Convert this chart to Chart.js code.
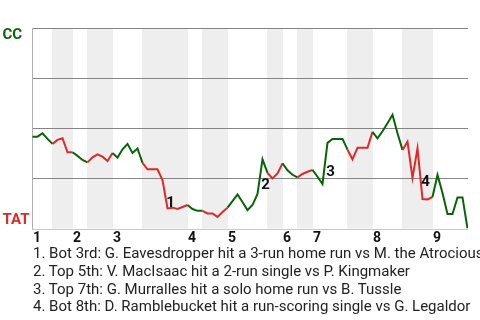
<!DOCTYPE html>
<html><head><meta charset="utf-8">
<script src="https://cdn.jsdelivr.net/npm/chart.js@4.4.1/dist/chart.umd.min.js"></script>
<style>
html,body{margin:0;padding:0;background:#fff;}
#wrap{position:relative;width:480px;height:320px;overflow:hidden;}
#c{position:absolute;left:0;top:0;}
#notes{position:absolute;left:33px;top:245.4px;font:15px Roboto, sans-serif;line-height:17.67px;color:#222;white-space:nowrap;}
</style></head><body>
<div id="wrap"><canvas id="c" width="480" height="320"></canvas>
<div id="notes"></div></div>
<script>
// Win probability for CC (0 = TAT wins, 100 = CC wins), one value per event
const winProb = [
  45.8, 45.8, 47.5, 44.7, 42.2, 44.2, 45.0, 38.0, 38.0, 36.2,
  34.2, 33.0, 35.5, 37.0, 35.8, 33.7, 37.7, 35.3, 39.5, 42.2,
  37.7, 39.9, 32.7, 29.5, 29.5, 29.5, 24.2, 10.0, 10.4, 9.7,
  10.7, 11.7, 9.7, 8.8, 8.8, 7.5, 7.5, 5.8, 8.2, 10.4,
  13.7, 17.0, 13.2, 9.2, 11.7, 17.2, 34.5, 27.7, 25.0, 27.5,
  32.5, 29.0, 26.8, 25.5, 27.2, 28.3, 29.2, 25.8, 22.2, 42.7,
  44.7, 44.7, 44.7, 39.3, 34.5, 40.3, 40.3, 40.3, 48.2, 45.0,
  48.5, 52.5, 56.7, 47.5, 39.2, 43.3, 25.2, 40.0, 14.7, 14.5,
  15.7, 26.7, 17.7, 7.2, 7.2, 15.5, 15.5, 0
];
const innings = ['1','2','3','4','5','6','7','8','9'];
const topStarts = [0, 8, 16, 31, 39, 50, 56, 68, 80];   // event index where each top half begins
const botStarts = [4, 11, 22, 34, 47, 53, 63, 74];      // event index where each bottom half begins
const keyEvents = [27, 46, 59, 78];
const keyLabels = ['1', '2', '3', '4'];
const notes = [
  '1. Bot 3rd: G. Eavesdropper hit a 3-run home run vs M. the Atrocious',
  '2. Top 5th: V. MacIsaac hit a 2-run single vs P. Kingmaker',
  '3. Top 7th: G. Murralles hit a solo home run vs B. Tussle',
  '4. Bot 8th: D. Ramblebucket hit a run-scoring single vs G. Legaldor'
];
const awayTeam = 'CC';
const homeTeam = 'TAT';
const yTicks = [0, 25, 50, 75, 100];

const GREEN = '#066606';
const RED = '#e02828';
const lastIndex = winProb.length - 1;

function isBottom(idx) {
  for (let k = 0; k < botStarts.length; k++) {
    const end = topStarts[k + 1] !== undefined ? topStarts[k + 1] : lastIndex + 1;
    if (idx >= botStarts[k] && idx < end) return true;
  }
  return false;
}

document.getElementById('notes').innerHTML = notes.map(n => '<div>' + n.replace(/&/g,'&amp;').replace(/</g,'&lt;') + '</div>').join('');

const decor = {
  id: 'decor',
  beforeDatasetsDraw(chart) {
    const {ctx, chartArea: a, scales: {x, y}} = chart;
    ctx.save();
    ctx.fillStyle = '#eeeeee';
    botStarts.forEach((b, k) => {
      const e = topStarts[k + 1] !== undefined ? topStarts[k + 1] : lastIndex;
      const x0 = x.getPixelForValue(b - 0.1);
      const x1 = x.getPixelForValue(e + 0.1);
      ctx.fillRect(x0, a.top, x1 - x0, a.bottom - a.top);
    });
    ctx.lineWidth = 1;
    yTicks.forEach(v => {
      if (v === 0) return;
      const py = Math.round(y.getPixelForValue(v)) + 0.5;
      ctx.strokeStyle = '#858585';
      ctx.beginPath(); ctx.moveTo(a.left, py); ctx.lineTo(a.right, py); ctx.stroke();
    });
    const by = Math.round(y.getPixelForValue(0)) + 0.5;
    ctx.strokeStyle = '#c8c8c8';
    ctx.beginPath(); ctx.moveTo(a.left, by); ctx.lineTo(a.right, by); ctx.stroke();
    ctx.strokeStyle = '#b0b0b0';
    ctx.beginPath(); ctx.moveTo(a.left + 0.5, a.top); ctx.lineTo(a.left + 0.5, a.bottom + 1); ctx.stroke();
    ctx.restore();
  },
  afterDatasetsDraw(chart) {
    const {ctx, chartArea: a, scales: {x, y}} = chart;
    ctx.save();
    // key event markers
    ctx.font = 'bold 15px Roboto, sans-serif';
    ctx.fillStyle = '#111';
    ctx.textAlign = 'center';
    ctx.textBaseline = 'alphabetic';
    keyEvents.forEach((e, k) => {
      const mx = (x.getPixelForValue(e - 1) + x.getPixelForValue(e)) / 2;
      const my = (y.getPixelForValue(winProb[e - 1]) + y.getPixelForValue(winProb[e])) / 2;
      ctx.fillText(keyLabels[k], mx + 5.5, my + 12.5);
    });
    // inning labels
    ctx.font = 'bold 14px Roboto, sans-serif';
    ctx.textAlign = 'left';
    innings.forEach((lab, k) => {
      ctx.fillText(lab, x.getPixelForValue(topStarts[k]) + 0.5, 242);
    });
    // team labels
    ctx.font = 'bold 15px Roboto, sans-serif';
    ctx.fillStyle = GREEN;
    ctx.fillText(awayTeam, 2.5, y.getPixelForValue(100) + 11.3);
    ctx.fillStyle = RED;
    ctx.fillText(homeTeam, 2.5, y.getPixelForValue(0) - 4.2);
    ctx.restore();
  }
};

new Chart(document.getElementById('c'), {
  type: 'line',
  data: {
    datasets: [{
      data: winProb.map((v, i) => ({x: i, y: v})),
      borderWidth: 2,
      pointRadius: 0,
      tension: 0,
      fill: false,
      borderColor: GREEN,
      segment: {
        borderColor: c => isBottom(c.p0.parsed.x) ? RED : GREEN
      }
    }]
  },
  options: {
    responsive: false,
    animation: false,
    devicePixelRatio: 1,
    layout: {padding: {left: 32, top: 28, right: 12, bottom: 91.5}},
    plugins: {legend: {display: false}, tooltip: {enabled: false}, title: {display: false}},
    scales: {
      x: {type: 'linear', min: -0.1, max: lastIndex + 0.1, display: false},
      y: {type: 'linear', min: 0, max: 100, display: false}
    }
  },
  plugins: [decor]
});
</script>
</body></html>
